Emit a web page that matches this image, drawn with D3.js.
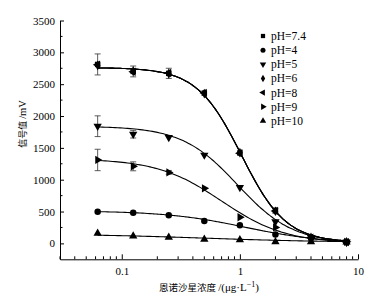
<!DOCTYPE html>
<html>
<head>
<meta charset="utf-8">
<script src="https://cdn.jsdelivr.net/npm/d3@7"></script>
<style>
  body { margin: 0; background: #fff; }
  text { font-family: "Liberation Serif", "Noto Sans CJK SC", serif; fill: #000; }
</style>
</head>
<body>
<div id="container"></div>
<script>
/* CONSTANTS AND GLOBALS */
const width = 376,
  height = 300;

/* DATA */
const conc = [0.0625, 0.125, 0.25, 0.5, 1, 2, 4, 8];
const labels = ["pH=7.4", "pH=4", "pH=5", "pH=6", "pH=8", "pH=9", "pH=10"];
const shapes = ["square", "circle", "down", "diamond", "left", "right", "up"];

const pH74 = [2810, 2700, 2670, 2360, 1420, 515, 90, 20];
const pH4  = [497, 481, 440, 350, 285, 141, 92, 22];
const pH5  = [1840, 1715, 1665, 1387, 880, 340, 94, 22];
const pH6  = [2795, 2705, 2665, 2352, 1425, 505, 93, 19];
const pH8  = [2805, 2695, 2675, 2362, 1415, 510, 89, 20];
const pH9  = [1310, 1210, 1115, 864, 410, 251, 94, 25];
const pH10 = [157, 115, 94, 63, 57, 25, 25, 20];

// standard deviations (0 = no bar drawn)
const err74 = [165, 85, 80, 0, 0, 40, 0, 0];
const err5  = [163, 60, 0, 0, 0, 0, 0, 0];
const err9  = [168, 70, 30, 0, 0, 0, 0, 0];
const errNone = [0, 0, 0, 0, 0, 0, 0, 0];

// four-parameter logistic fit: y = D + (A - D) / (1 + (x / C)^B)
const fitA = [2760, 510, 1840, 2760, 2760, 1330, 150];
const fitB = [2.3, 1.3, 1.85, 2.3, 2.3, 1.6, 0.8];
const fitC = [1.03, 1.1, 0.955, 1.03, 1.03, 0.7, 0.5];
const fitD = [15, 0, 0, 15, 15, 0, 15];

const yTicks = [0, 500, 1000, 1500, 2000, 2500, 3000, 3500];
const xTicks = [0.1, 1, 10];

const values = [pH74, pH4, pH5, pH6, pH8, pH9, pH10];
const errors = [err74, errNone, err5, errNone, errNone, err9, errNone];

const svg = d3.select("#container")
  .append("svg")
  .attr("width", width)
  .attr("height", height)
  .style("background-color", "#fff");

/* SCALES */
const xScale = d3.scaleLog()
  .domain([0.03, 10])
  .range([60, 358]);

const yScale = d3.scaleLinear()
  .domain([-250, 3500])
  .range([259.3, 20.5]);

/* AXES */
const xAxis = svg.append("g")
  .attr("transform", `translate(0,${yScale(-250)})`)
  .call(d3.axisBottom(xScale)
    .tickValues(xTicks)
    .tickFormat(d3.format("~g"))
    .tickSize(-5)
    .tickSizeOuter(0)
    .tickPadding(8));

xAxis.selectAll(".minor")
  .data(xScale.ticks().filter(d => !xTicks.includes(d)))
  .join("line")
  .attr("class", "minor")
  .attr("x1", d => xScale(d)).attr("x2", d => xScale(d))
  .attr("y1", 0).attr("y2", -3)
  .attr("stroke", "#000");

const yAxis = svg.append("g")
  .attr("transform", `translate(${xScale(0.03)},0)`)
  .call(d3.axisLeft(yScale)
    .tickValues(yTicks)
    .tickFormat(d3.format("d"))
    .tickSize(-4)
    .tickSizeOuter(0)
    .tickPadding(5));

yAxis.selectAll(".minor")
  .data(d3.range(250, 3500, 500))
  .join("line")
  .attr("class", "minor")
  .attr("x1", 0).attr("x2", 2.5)
  .attr("y1", d => yScale(d)).attr("y2", d => yScale(d))
  .attr("stroke", "#000");

svg.selectAll(".domain").attr("stroke", "#000").attr("stroke-width", 1);
svg.selectAll(".tick line").attr("stroke", "#000");
svg.selectAll(".tick text")
  .style("font-size", "11px")
  .style("font-family", "'Liberation Serif', serif")
  .attr("fill", "#000");

// axis titles
svg.append("text")
  .attr("text-anchor", "middle")
  .attr("x", 209)
  .attr("y", 291)
  .call(t => {
    t.append("tspan").style("font-family", "'Noto Sans CJK SC'").style("font-size", "9.5px").text("恩诺沙星浓度 ");
    t.append("tspan").style("font-size", "11px").text("/(μg·L");
    t.append("tspan").style("font-size", "8px").attr("dy", -4).text("−1");
    t.append("tspan").style("font-size", "11px").attr("dy", 4).text(")");
  });

svg.append("text")
  .attr("text-anchor", "middle")
  .attr("transform", "translate(26,124) rotate(-90)")
  .call(t => {
    t.append("tspan").style("font-family", "'Noto Sans CJK SC'").style("font-size", "9px").text("信号值 ");
    t.append("tspan").style("font-size", "10.5px").text("/mV");
  });

/* MARKERS */
function symbolPath(shape, size) {
  const type = {
    square: d3.symbolSquare, circle: d3.symbolCircle, diamond: d3.symbolDiamond,
    up: d3.symbolTriangle, down: d3.symbolTriangle, left: d3.symbolTriangle, right: d3.symbolTriangle
  }[shape];
  return d3.symbol().type(type).size(shape === "circle" ? size * 1.1 : shape === "diamond" ? size * 0.9 : size)();
}
const rotation = { down: 180, left: -90, right: 90 };

const line = d3.line()
  .x(d => xScale(d[0]))
  .y(d => yScale(d[1]))
  .curve(d3.curveBasis);

const xs = d3.range(0, 101).map(i => Math.pow(10, Math.log10(0.0625) + i / 100 * (Math.log10(8) - Math.log10(0.0625))));

values.forEach((vals, s) => {
  // fitted curve
  const fit = xs.map(x => [x, fitD[s] + (fitA[s] - fitD[s]) / (1 + Math.pow(x / fitC[s], fitB[s]))]);
  svg.append("path")
    .datum(fit)
    .attr("d", line)
    .attr("fill", "none")
    .attr("stroke", "#000")
    .attr("stroke-width", 1.1);

  // error bars
  const eb = svg.append("g").attr("stroke", "#333").attr("stroke-width", 0.8);
  conc.forEach((c, i) => {
    const e = errors[s][i];
    if (!e) return;
    const cx = xScale(c);
    eb.append("line").attr("x1", cx).attr("x2", cx).attr("y1", yScale(vals[i] - e)).attr("y2", yScale(vals[i] + e));
    eb.append("line").attr("x1", cx - 3).attr("x2", cx + 3).attr("y1", yScale(vals[i] - e)).attr("y2", yScale(vals[i] - e));
    eb.append("line").attr("x1", cx - 3).attr("x2", cx + 3).attr("y1", yScale(vals[i] + e)).attr("y2", yScale(vals[i] + e));
  });

  // points
  svg.selectAll(".pt" + s)
    .data(vals)
    .join("path")
    .attr("class", "pt" + s)
    .attr("d", symbolPath(shapes[s], 30))
    .attr("transform", (d, i) => `translate(${xScale(conc[i])},${yScale(d)}) rotate(${rotation[shapes[s]] || 0})`)
    .attr("fill", "#000");
});

/* LEGEND */
const legend = svg.append("g");
labels.forEach((lab, s) => {
  const ly = 36 + s * 14.15;
  legend.append("path")
    .attr("d", symbolPath(shapes[s], 18))
    .attr("transform", `translate(263,${ly}) rotate(${rotation[shapes[s]] || 0})`)
    .attr("fill", "#000");
  legend.append("text")
    .attr("x", 271)
    .attr("y", ly + 4)
    .style("font-size", "11.5px")
    .text(lab);
});
</script>
</body>
</html>
